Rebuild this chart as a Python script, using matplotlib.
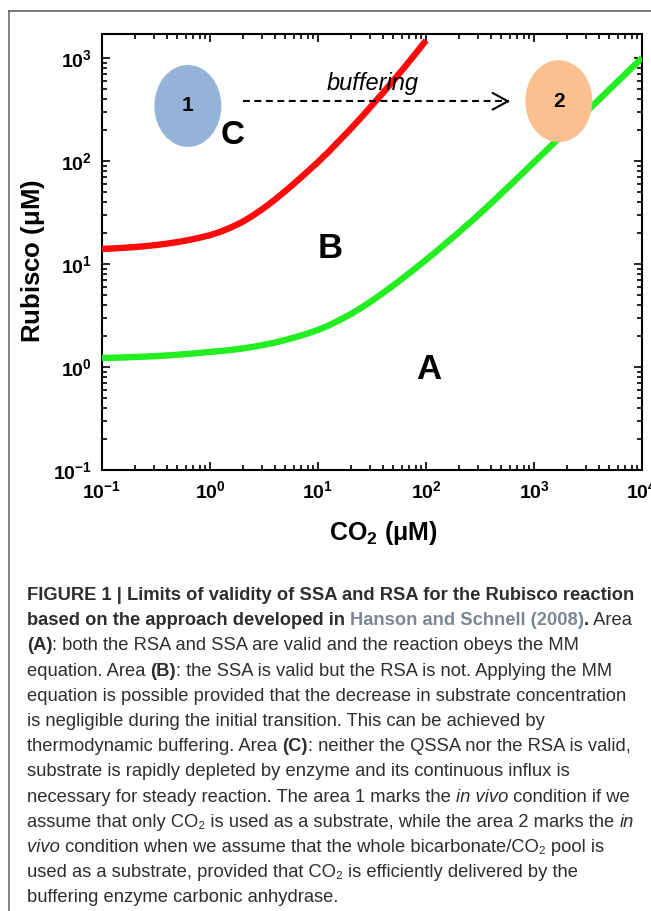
import numpy as np
import matplotlib
matplotlib.use('Agg')
import matplotlib.pyplot as plt
from matplotlib.patches import Ellipse
from matplotlib.lines import Line2D
from matplotlib.ticker import LogLocator, NullFormatter, FixedLocator, FixedFormatter

# values (red = RSA limit, green = SSA limit)
co2_rsa = [0.1, 0.126, 0.158, 0.2, 0.251, 0.316, 0.398, 0.501, 0.631, 0.794,
           1, 1.26, 1.58, 2.0, 2.51, 3.16, 3.98, 5.01, 6.31, 7.94,
           10, 12.6, 15.8, 20, 25.1, 31.6, 39.8, 50.1, 63.1, 79.4, 100]
rubisco_rsa = [14.0, 14.16, 14.35, 14.59, 14.89, 15.28, 15.74, 16.33, 17.06, 17.95,
               19.05, 20.61, 22.75, 25.64, 29.65, 34.99, 42.07, 51.29, 63.24, 78.34,
               97.72, 123.6, 158.1, 204.2, 264.8, 346.7, 457.1, 606.7, 810.6, 1091, 1479]

co2_ssa = [0.1, 0.126, 0.158, 0.2, 0.251, 0.316, 0.398, 0.501, 0.631, 0.794,
           1, 1.26, 1.58, 2.0, 2.51, 3.16, 3.98, 5.01, 6.31, 7.94,
           10, 12.6, 15.8, 20, 25.1, 31.6, 39.8, 50.1, 63.1, 79.4,
           100, 126, 158, 200, 251, 316, 398, 501, 631, 794,
           1000, 1259, 1585, 1995, 2512, 3162, 3981, 5012, 6310, 7943, 10000]
rubisco_ssa = [1.222, 1.230, 1.239, 1.250, 1.262, 1.276, 1.294, 1.315, 1.340, 1.368,
               1.400, 1.429, 1.466, 1.514, 1.570, 1.641, 1.726, 1.832, 1.959, 2.109,
               2.291, 2.535, 2.851, 3.251, 3.750, 4.395, 5.212, 6.223, 7.482, 9.036,
               10.96, 13.37, 16.37, 20.14, 24.89, 30.90, 38.64, 48.53, 61.09, 77.09,
               97.27, 122.7, 154.9, 195.4, 246.6, 311.2, 392.6, 496.6, 626.6, 792.5, 1000]

x_tick_exps = [-1, 0, 1, 2, 3, 4]
y_tick_exps = [-1, 0, 1, 2, 3]

region_labels = ['A', 'B', 'C']
pool_labels = ['1', '2']
pool_colors = ['#95b3d7', '#fac090']

plt.rcParams['font.family'] = ['Liberation Sans', 'DejaVu Sans']
plt.rcParams['mathtext.fontset'] = 'custom'
plt.rcParams['mathtext.rm'] = 'Liberation Sans:bold'
plt.rcParams['mathtext.bf'] = 'Liberation Sans:bold'
plt.rcParams['mathtext.it'] = 'Liberation Sans:italic:bold'

W, H = 651, 911
fig = plt.figure(figsize=(W / 100, H / 100), dpi=100)

# gray frame around the figure panel
fig.add_artist(Line2D([8.5 / W, 8.5 / W], [0, 1 - 11 / H], color='#7a7a7a', lw=1.3))
fig.add_artist(Line2D([8.5 / W, 1], [1 - 11 / H, 1 - 11 / H], color='#555555', lw=1.1))

ax = fig.add_axes([102 / W, 1 - 470 / H, 540 / W, 436 / H])
ax.set_xscale('log')
ax.set_yscale('log')

ax.plot(co2_rsa, rubisco_rsa, color='#ff0a0a', lw=4.6, solid_capstyle='butt', zorder=3)
ax.plot(co2_ssa, rubisco_ssa, color='#22ee22', lw=4.6, solid_capstyle='butt', zorder=3)

ax.set_xlim(0.1, 1e4)
ax.set_ylim(0.1, 1710)

ax.xaxis.set_major_locator(FixedLocator([10.0 ** e for e in x_tick_exps]))
ax.xaxis.set_major_formatter(FixedFormatter([r'$\mathrm{10^{%d}}$' % e for e in x_tick_exps]))
ax.yaxis.set_major_locator(FixedLocator([10.0 ** e for e in y_tick_exps]))
ax.yaxis.set_major_formatter(FixedFormatter([r'$\mathrm{10^{%d}}$' % e for e in y_tick_exps]))
for axis in (ax.xaxis, ax.yaxis):
    axis.set_minor_locator(LogLocator(base=10, subs=np.arange(2, 10)))
    axis.set_minor_formatter(NullFormatter())

ax.tick_params(which='both', direction='in', top=True, right=True, width=1.2, color='black')
ax.tick_params(which='major', length=6, labelsize=14, pad=7)
ax.tick_params(which='minor', length=3.5)
for s in ax.spines.values():
    s.set_linewidth(1.5)

ax.set_xlabel(r'CO$_\mathbf{2}$ ($\mathbf{\mu}$M)', fontsize=18, fontweight='bold')
ax.set_ylabel(r'Rubisco ($\mathbf{\mu}$M)', fontsize=18.5, fontweight='bold')
ax.xaxis.set_label_coords((383 - 102) / 540, -(519 - 470) / 436)
ax.yaxis.set_label_coords(-(102 - 47) / 540, 0.48)

# area letters
ax.text(107, 0.94, region_labels[0], fontsize=25, fontweight='bold', ha='center', va='center')
ax.text(12.9, 14, region_labels[1], fontsize=25, fontweight='bold', ha='center', va='center')
ax.text(1.63, 175, region_labels[2], fontsize=24, fontweight='bold', ha='center', va='center')

# in vivo pools
for (cx, cy), lab, col in zip([(0.159, 0.835), (0.846, 0.846)], pool_labels, pool_colors):
    ax.add_patch(Ellipse((cx, cy), 0.124, 0.188, transform=ax.transAxes,
                         facecolor=col, edgecolor='none', zorder=4))
    ax.text(cx, cy, lab, transform=ax.transAxes, fontsize=15, fontweight='bold',
            ha='center', va='center', zorder=5)

# buffering arrow
ax.plot([2.0, 560], [380, 380], color='black', lw=1.5, ls=(0, (3.3, 2.2)), zorder=4)
ax.annotate('', xy=(600, 380), xytext=(560, 380),
            arrowprops=dict(arrowstyle='->,head_length=0.55,head_width=0.3', lw=1.5,
                            color='black', mutation_scale=20, shrinkA=0, shrinkB=0),
            zorder=4)
ax.text(32.3, 571, 'buffering', fontsize=17, style='italic', ha='center', va='center')

# caption
cap_fam = ['Liberation Sans', 'DejaVu Sans']
cap_size = 13.2
body = '#2e2e2e'
gray = '#7b8794'

caption = [
    [('FIGURE 1 | Limits of validity of SSA and RSA for the Rubisco reaction', 'b', body)],
    [('based on the approach developed in ', 'b', body), ('Hanson and Schnell (2008)', 'b', gray),
     ('.', 'b', body), (' Area', 'n', body)],
    [('(A)', 'b', body), (': both the RSA and SSA are valid and the reaction obeys the MM', 'n', body)],
    [('equation. Area ', 'n', body), ('(B)', 'b', body),
     (': the SSA is valid but the RSA is not. Applying the MM', 'n', body)],
    [('equation is possible provided that the decrease in substrate concentration', 'n', body)],
    [('is negligible during the initial transition. This can be achieved by', 'n', body)],
    [('thermodynamic buffering. Area ', 'n', body), ('(C)', 'b', body),
     (': neither the QSSA nor the RSA is valid,', 'n', body)],
    [('substrate is rapidly depleted by enzyme and its continuous influx is', 'n', body)],
    [('necessary for steady reaction. The area 1 marks the ', 'n', body), ('in vivo', 'i', body),
     (' condition if we', 'n', body)],
    [('assume that only CO\u2082 is used as a substrate, while the area 2 marks the ', 'n', body),
     ('in', 'i', body)],
    [('vivo', 'i', body), (' condition when we assume that the whole bicarbonate/CO\u2082 pool is', 'n', body)],
    [('used as a substrate, provided that CO\u2082 is efficiently delivered by the', 'n', body)],
    [('buffering enzyme carbonic anhydrase.', 'n', body)],
]

renderer = fig.canvas.get_renderer()


def seg_props(st, col):
    return dict(fontsize=cap_size, family=cap_fam, color=col,
                fontweight='bold' if st == 'b' else 'normal',
                style='italic' if st == 'i' else 'normal')


def advance(txt, st):
    # width of a segment including its spaces
    p = seg_props(st, 'black')
    t1 = fig.text(0, 0, '|' + txt + '|', **p)
    t2 = fig.text(0, 0, '||', **p)
    w = t1.get_window_extent(renderer).width - t2.get_window_extent(renderer).width
    t1.remove()
    t2.remove()
    return w


y0 = 600
dy = 25.2
for i, line in enumerate(caption):
    x = 27
    for txt, st, col in line:
        fig.text(x / W, 1 - (y0 + i * dy) / H, txt, va='baseline', ha='left', **seg_props(st, col))
        x += advance(txt, st)

fig.savefig('out.png', dpi=100)
